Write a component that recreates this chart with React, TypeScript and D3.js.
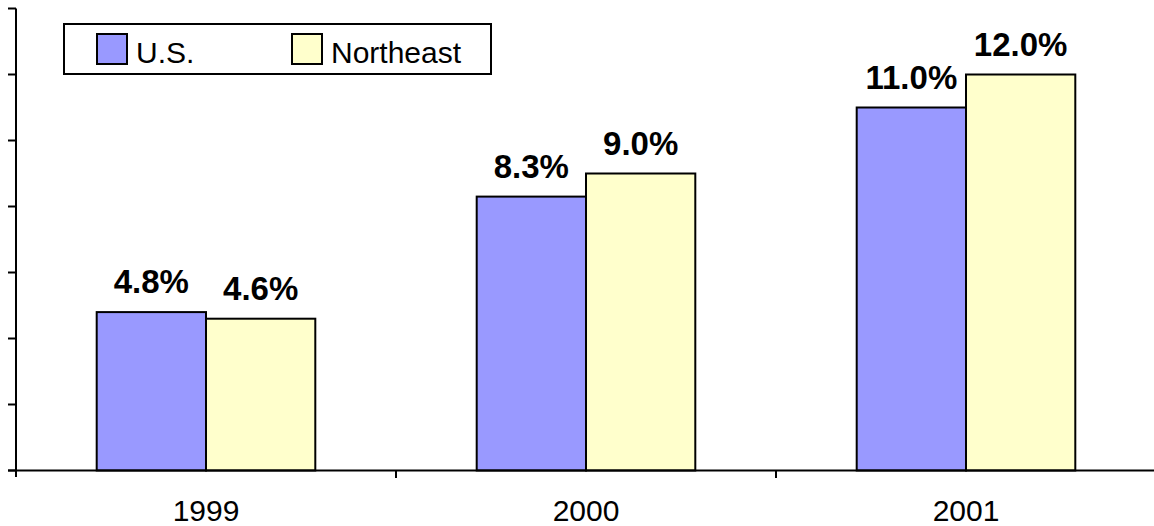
import React from "react";
import * as d3 from "d3";

const categories = ["1999", "2000", "2001"];
const seriesNames = ["U.S.", "Northeast"];
const usValues = [4.8, 8.3, 11.0];
const northeastValues = [4.6, 9.0, 12.0];
const yTicks = [0, 2, 4, 6, 8, 10, 12, 14];
const colors = ["#9999FF", "#FFFFCC"];

const W = 1154;
const H = 526;

export default function App() {
  const x0 = d3.scaleBand<string>().domain(categories).range([16, 1156]).paddingInner(0).paddingOuter(0);
  const groupW = x0.bandwidth() * (218.6 / 380);
  const x1 = d3.scaleBand<string>().domain(seriesNames).range([0, groupW]);
  const y = d3.scaleLinear().domain([0, 14]).range([470.5, 8.5]);
  const seriesValues = [usValues, northeastValues];
  const font = "'Liberation Sans', Arial, sans-serif";
  const boundaries = [...categories.map((c) => x0(c) as number), 1156];

  return (
    <svg width={W} height={H} style={{ position: "absolute", left: 0, top: 0, background: "#fff" }} fontFamily={font}>
      <rect x={0} y={0} width={W} height={H} fill="#fff" />
      {categories.map((c, ci) => {
        const gx = (x0(c) as number) + (x0.bandwidth() - groupW) / 2;
        return seriesNames.map((s, si) => {
          const v = seriesValues[si][ci];
          const bx = gx + (x1(s) as number);
          return (
            <g key={c + s}>
              <rect x={bx} y={y(v)} width={x1.bandwidth()} height={y(0) - y(v)} fill={colors[si]} stroke="#000" strokeWidth={2} />
              <text x={bx + x1.bandwidth() / 2} y={y(v) - 19} textAnchor="middle" fontWeight="bold" fontSize={33} fill="#000">
                {v.toFixed(1) + "%"}
              </text>
            </g>
          );
        });
      })}
      {/* y axis */}
      <line x1={16} x2={16} y1={y(14)} y2={477} stroke="#000" strokeWidth={2} />
      {yTicks.map((t) => (
        <line key={t} x1={8} x2={16} y1={y(t)} y2={y(t)} stroke="#000" strokeWidth={2} />
      ))}
      {/* x axis */}
      <line x1={8} x2={W} y1={y(0)} y2={y(0)} stroke="#000" strokeWidth={2} />
      {boundaries.slice(1).map((b, i) => (
        <line key={i} x1={b} x2={b} y1={y(0)} y2={478} stroke="#000" strokeWidth={2} />
      ))}
      {categories.map((c) => (
        <text key={c} x={(x0(c) as number) + x0.bandwidth() / 2} y={521} textAnchor="middle" fontSize={30} fill="#000">
          {c}
        </text>
      ))}
      {/* legend */}
      <rect x={64} y={24} width={427} height={50} fill="#fff" stroke="#000" strokeWidth={2} />
      <rect x={97} y={34} width={30} height={30} fill={colors[0]} stroke="#000" strokeWidth={2} />
      <text x={136} y={63} fontSize={30} fill="#000">{seriesNames[0]}</text>
      <rect x={292} y={34} width={30} height={30} fill={colors[1]} stroke="#000" strokeWidth={2} />
      <text x={331} y={63} fontSize={30} fill="#000">{seriesNames[1]}</text>
    </svg>
  );
}
